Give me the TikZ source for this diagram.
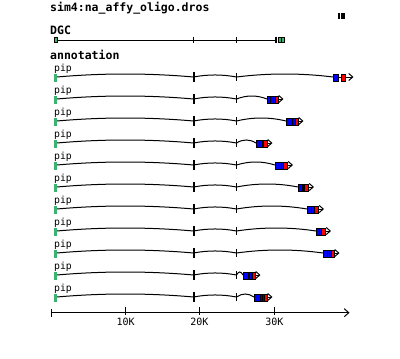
\documentclass[tikz,border=0pt]{standalone}
\usepackage{fontspec}
\newfontfamily\gmono{DejaVu Sans Mono}
\usetikzlibrary{arrows.meta,calc}
\definecolor{gg}{HTML}{3CB371}
\definecolor{bb}{HTML}{0000FF}
\definecolor{rr}{HTML}{FF0000}
\tikzset{
  lbl/.style={inner sep=0pt, anchor=base west, font=\gmono\bfseries\fontsize{11.5}{12}\selectfont},
  piplbl/.style={inner sep=0pt, anchor=base west, font=\gmono\fontsize{9.8}{10}\selectfont},
  axlbl/.style={inner sep=0pt, anchor=base, font=\gmono\fontsize{10}{11}\selectfont},
  intron/.style={line width=1pt},
  bigtick/.style={line width=2pt},
  smalltick/.style={line width=1pt},
  fwd/.style={line width=1pt, -{Straight Barb[length=4pt,width=7pt]}},
  utrbox/.style={fill=gg, draw=none},
  cdsbox/.style={fill=bb, draw=black, line width=1pt},
  endbox/.style={fill=rr, draw=black, line width=1pt},
}
\begin{document}
\begin{tikzpicture}[x=1pt,y=-1pt]
\useasboundingbox (0,0) rectangle (400,359);
% headers
\node[lbl] (title) at (50,11) {sim4:na\_affy\_oligo.dros};
\fill (338.3,13.3) rectangle (340,18.7);
\fill (341.3,13.3) rectangle (345,18.7);
\node[lbl] (dgc) at (50,34) {DGC};
\node[lbl] (annot) at (50,59) {annotation};
% DGC track
\coordinate (d0) at (57,40);
\coordinate (d1) at (276.3,40);
\draw[line width=1pt] (d0) -- (d1);
\draw[fill=gg, draw=black, line width=0.8pt] (54.4,37.4) rectangle (57,42.4);
\draw[line width=1.5pt] (193.5,36.7) -- (193.5,43);
\draw[line width=1pt] (236.3,36.7) -- (236.3,43);
\draw[line width=2pt] (276.3,36.7) -- (276.3,43);
\draw[fill=gg, draw=black, line width=1pt] (278.5,37.5) rectangle (284.5,42.5);
\draw[line width=1pt] (281.5,37.5) -- (281.5,42.5);
% annotation rows
\foreach \y/\s/\q/\r/\e/\a/\sl [count=\i] in {
  77/333/338.7/341/345.3/353.5/{338.7},
  99/267/275/275/278/283.5/{270.5,273.5},
  121/286/295/295/298/303.5/{292.5},
  143/256/263.7/263.7/267/272.5/{259.5,262.3},
  165/275/283.5/283.5/287/293/{281.5},
  187/298/304.5/304.5/308/314/{303},
  209/307/314.7/314.7/318/324/{311.5},
  231/316/321.7/321.7/325/331/{319.5},
  253/323/331/331/334/339.5/{327.5,329.7},
  275/243/252/252/255/260.5/{249,251.3},
  297/254/264/264/267/272.5/{260.5,262.7}}{
  \node[piplbl] (pip\i) at (54,{\y-5.5}) {pip};
  \coordinate (g\i) at (57,\y);
  \coordinate (ta\i) at (193.5,\y);
  \coordinate (tb\i) at (236.5,\y);
  \coordinate (bs\i) at (\s,\y);
  \coordinate (tip\i) at (\a,\y);
  \draw[intron] (g\i) .. controls ($(g\i)!1/3!(ta\i)+(0,-4)$) and ($(g\i)!2/3!(ta\i)+(0,-4)$) .. (ta\i);
  \draw[intron] (ta\i) .. controls ($(ta\i)!1/3!(tb\i)+(0,-2.7)$) and ($(ta\i)!2/3!(tb\i)+(0,-2.7)$) .. (tb\i);
  \draw[intron] (tb\i) .. controls ($(tb\i)!1/3!(bs\i)+(0,-4)$) and ($(tb\i)!2/3!(bs\i)+(0,-4)$) .. (bs\i);
  \draw[bigtick] (193.5,{\y-5}) -- (193.5,{\y+5});
  \draw[smalltick] (236.5,{\y-4}) -- (236.5,{\y+4});
  \fill[gg] (54,{\y-3}) rectangle (57,{\y+4.5});
  \draw[fwd] (bs\i) -- (tip\i);
  \draw[cdsbox] (\s,{\y-3}) rectangle (\q,{\y+4.5});
  \draw[endbox] (\r,{\y-3}) rectangle (\e,{\y+4.5});
  \foreach \x in \sl {\draw[line width=1.2pt] (\x,{\y-3}) -- (\x,{\y+4.5});}
}
% axis
\coordinate (ax0) at (51,312.7);
\coordinate (ax1) at (349.5,312.7);
\draw[line width=1pt, -{Straight Barb[length=4.5pt,width=8pt]}] (ax0) -- (ax1);
\draw[line width=1pt] (51,308.7) -- (51,316.7);
\foreach \x/\t in {125.7/10K, 199.3/20K, 274.3/30K}{
  \draw[line width=1pt] (\x,306.7) -- (\x,315);
  \node[axlbl] (lab\t) at (\x,325.5) {\t};
}
\end{tikzpicture}
\end{document}
